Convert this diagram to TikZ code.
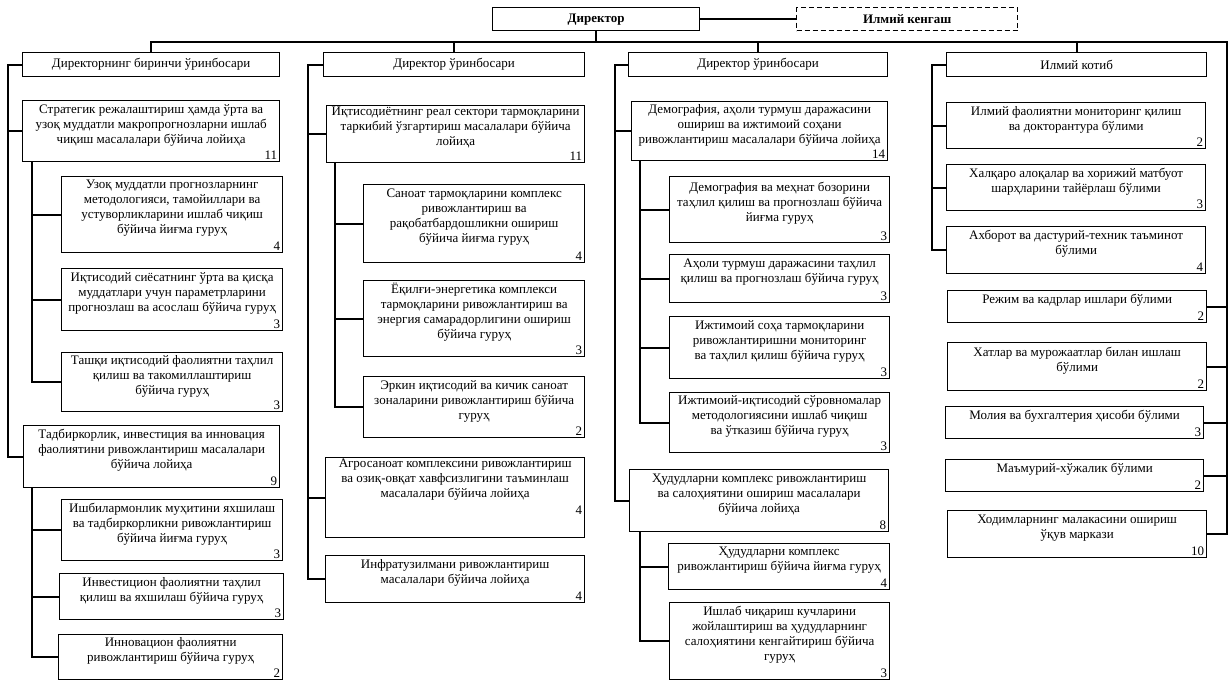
\documentclass[tikz,border=0pt]{standalone}
\usepackage{fontspec}
\setmainfont{Liberation Serif}
\tikzset{
  box/.style={draw, line width=1.3pt, align=center, inner xsep=3pt, inner ysep=1pt, anchor=north west, font=\fontsize{13}{15}\selectfont},
  unit/.style={box, text depth=15pt},
  num/.style={anchor=south east, draw=none, inner sep=3pt, minimum width=0pt, minimum height=0pt, text depth=0pt, font=\fontsize{13}{15}\selectfont},
  wire/.style={line width=1.8pt},
}
\begin{document}
\begin{tikzpicture}[x=1pt, y=-1pt]
\useasboundingbox (0,0) rectangle (1232,685);
% top
\node[box, font=\bfseries\fontsize{13}{15}\selectfont, minimum width=207pt, minimum height=23pt] (dir) at (492,7) {Директор};
\node[box, dash pattern=on 5pt off 3pt, font=\bfseries\fontsize{13}{15}\selectfont, minimum width=221pt, minimum height=23pt] (kengash) at (796,7) {Илмий кенгаш};
\node[box, minimum width=257pt, minimum height=24pt] (zam1) at (22,52) {Директорнинг биринчи ўринбосари};
\node[box, minimum width=261pt, minimum height=24pt] (zam2) at (323,52) {Директор ўринбосари};
\node[box, minimum width=259pt, minimum height=24pt] (zam3) at (628,52) {Директор ўринбосари};
\node[box, minimum width=260pt, minimum height=24pt] (kotib) at (946,52) {Илмий котиб};
% first column
\node[unit, minimum width=257pt, minimum height=61pt, label={[num]south east:11}] (loy1) at (22,100) {Стратегик режалаштириш ҳамда ўрта ва\\узоқ муддатли макропрогнозларни ишлаб\\чиқиш масалалари бўйича лойиҳа};
\node[unit, minimum width=221pt, minimum height=76pt, label={[num]south east:4}] (gur1) at (61,176) {Узоқ муддатли прогнозларнинг\\методологияси, тамойиллари ва\\устуворликларини ишлаб чиқиш\\бўйича йиғма гуруҳ};
\node[unit, minimum width=221pt, minimum height=62pt, label={[num]south east:3}] (gur2) at (61,268) {Иқтисодий сиёсатнинг ўрта ва қисқа\\муддатлари учун параметрларини\\прогнозлаш ва асослаш бўйича гуруҳ};
\node[unit, minimum width=221pt, minimum height=59pt, label={[num]south east:3}] (gur3) at (61,352) {Ташқи иқтисодий фаолиятни таҳлил\\қилиш ва такомиллаштириш\\бўйича гуруҳ};
\node[unit, minimum width=256pt, minimum height=62pt, label={[num]south east:9}] (loy2) at (23,425) {Тадбиркорлик, инвестиция ва инновация\\фаолиятини ривожлантириш масалалари\\бўйича лойиҳа};
\node[unit, minimum width=221pt, minimum height=61pt, label={[num]south east:3}] (gur4) at (61,499) {Ишбилармонлик муҳитини яхшилаш\\ва тадбиркорликни ривожлантириш\\бўйича йиғма гуруҳ};
\node[unit, minimum width=224pt, minimum height=46pt, label={[num]south east:3}] (gur5) at (59,573) {Инвестицион фаолиятни таҳлил\\қилиш ва яхшилаш бўйича гуруҳ};
\node[unit, minimum width=224pt, minimum height=45pt, label={[num]south east:2}] (gur6) at (58,634) {Инновацион фаолиятни\\ривожлантириш бўйича гуруҳ};
% second column
\node[unit, minimum width=258pt, minimum height=57pt, label={[num]south east:11}] (loy3) at (326,105) {Иқтисодиётнинг реал сектори тармоқларини\\таркибий ўзгартириш масалалари бўйича\\лойиҳа};
\node[unit, minimum width=221pt, minimum height=78pt, label={[num]south east:4}] (gur7) at (363,184) {Саноат тармоқларини комплекс\\ривожлантириш ва\\рақобатбардошликни ошириш\\бўйича йиғма гуруҳ};
\node[unit, minimum width=221pt, minimum height=76pt, label={[num]south east:3}] (gur8) at (363,280) {Ёқилғи-энергетика комплекси\\тармоқларини ривожлантириш ва\\энергия самарадорлигини ошириш\\бўйича гуруҳ};
\node[unit, minimum width=221pt, minimum height=61pt, label={[num]south east:2}] (gur9) at (363,376) {Эркин иқтисодий ва кичик саноат\\зоналарини ривожлантириш бўйича\\гуруҳ};
\node[unit, text depth=38pt, minimum width=259pt, minimum height=80pt, label={[num, yshift=21pt]south east:4}] (loy4) at (325,457) {Агросаноат комплексини ривожлантириш\\ва озиқ-овқат хавфсизлигини таъминлаш\\масалалари бўйича лойиҳа};
\node[unit, minimum width=259pt, minimum height=47pt, label={[num]south east:4}] (loy5) at (325,555) {Инфратузилмани ривожлантириш\\масалалари бўйича лойиҳа};
% third column
\node[unit, minimum width=256pt, minimum height=59pt, label={[num]south east:14}] (loy6) at (631,101) {Демография, аҳоли турмуш даражасини\\ошириш ва ижтимоий соҳани\\ривожлантириш масалалари бўйича лойиҳа};
\node[unit, minimum width=220pt, minimum height=66pt, label={[num]south east:3}] (gur10) at (669,176) {Демография ва меҳнат бозорини\\таҳлил қилиш ва прогнозлаш бўйича\\йиғма гуруҳ};
\node[unit, minimum width=220pt, minimum height=48pt, label={[num]south east:3}] (gur11) at (669,254) {Аҳоли турмуш даражасини таҳлил\\қилиш ва прогнозлаш бўйича гуруҳ};
\node[unit, minimum width=220pt, minimum height=62pt, label={[num]south east:3}] (gur12) at (669,316) {Ижтимоий соҳа тармоқларини\\ривожлантиришни мониторинг\\ва таҳлил қилиш бўйича гуруҳ};
\node[unit, minimum width=220pt, minimum height=60pt, label={[num]south east:3}] (gur13) at (669,392) {Ижтимоий-иқтисодий сўровномалар\\методологиясини ишлаб чиқиш\\ва ўтказиш бўйича гуруҳ};
\node[unit, minimum width=259pt, minimum height=62pt, label={[num]south east:8}] (loy7) at (629,469) {Ҳудудларни комплекс ривожлантириш\\ва салоҳиятини ошириш масалалари\\бўйича лойиҳа};
\node[unit, minimum width=221pt, minimum height=46pt, label={[num]south east:4}] (gur14) at (668,543) {Ҳудудларни комплекс\\ривожлантириш бўйича йиғма гуруҳ};
\node[unit, minimum width=220pt, minimum height=77pt, label={[num]south east:3}] (gur15) at (669,602) {Ишлаб чиқариш кучларини\\жойлаштириш ва ҳудудларнинг\\салоҳиятини кенгайтириш бўйича\\гуруҳ};
% fourth column
\node[unit, minimum width=259pt, minimum height=46pt, label={[num]south east:2}] (bul1) at (946,102) {Илмий фаолиятни мониторинг қилиш\\ва докторантура бўлими};
\node[unit, minimum width=259pt, minimum height=46pt, label={[num]south east:3}] (bul2) at (946,164) {Халқаро алоқалар ва хорижий матбуот\\шарҳларини тайёрлаш бўлими};
\node[unit, minimum width=259pt, minimum height=47pt, label={[num]south east:4}] (bul3) at (946,226) {Ахборот ва дастурий-техник таъминот\\бўлими};
\node[unit, minimum width=259pt, minimum height=32pt, label={[num]south east:2}] (bul4) at (947,290) {Режим ва кадрлар ишлари бўлими};
\node[unit, minimum width=259pt, minimum height=48pt, label={[num]south east:2}] (bul5) at (947,342) {Хатлар ва мурожаатлар билан ишлаш\\бўлими};
\node[unit, minimum width=258pt, minimum height=32pt, label={[num]south east:3}] (bul6) at (945,406) {Молия ва бухгалтерия ҳисоби бўлими};
\node[unit, minimum width=258pt, minimum height=32pt, label={[num]south east:2}] (bul7) at (945,459) {Маъмурий-хўжалик бўлими};
\node[unit, minimum width=259pt, minimum height=47pt, label={[num]south east:10}] (bul8) at (947,510) {Ходимларнинг малакасини ошириш\\ўқув маркази};
% lines
\coordinate (bus) at (0,42);
\coordinate (s1) at (8,0);
\coordinate (t1) at (32,0);
\coordinate (s2) at (308,0);
\coordinate (t2) at (335,0);
\coordinate (s3) at (615,0);
\coordinate (t3) at (640,0);
\coordinate (s4) at (932,0);
\coordinate (s5) at (1227,0);
\draw[wire] (dir.east) -- (kengash.west);
\draw[wire] (dir.south) -- (dir.south |- bus);
\draw[wire] (zam1.north) |- (s5 |- bus) -- (s5 |- bul8.east) -- (bul8.east);
\foreach \n in {zam2,zam3,kotib} \draw[wire] (\n.north) -- (\n.north |- bus);
\draw[wire] (zam1.west) -| (s1 |- loy2.west) -- (loy2.west);
\draw[wire] (loy1.west) -- (loy1.west -| s1);
\draw[wire] (loy1.south -| t1) |- (gur3.west);
\draw[wire] (loy2.south -| t1) |- (gur6.west);
\foreach \n in {gur1,gur2,gur4,gur5} \draw[wire] (\n.west) -- (\n.west -| t1);
\draw[wire] (zam2.west) -| (s2 |- loy5.west) -- (loy5.west);
\foreach \n in {loy3,loy4} \draw[wire] (\n.west) -- (\n.west -| s2);
\draw[wire] (loy3.south -| t2) |- (gur9.west);
\foreach \n in {gur7,gur8} \draw[wire] (\n.west) -- (\n.west -| t2);
\draw[wire] (zam3.west) -| (s3 |- loy7.west) -- (loy7.west);
\draw[wire] (loy6.west) -- (loy6.west -| s3);
\draw[wire] (loy6.south -| t3) |- (gur13.west);
\draw[wire] (loy7.south -| t3) |- (gur15.west);
\foreach \n in {gur10,gur11,gur12,gur14} \draw[wire] (\n.west) -- (\n.west -| t3);
\draw[wire] (kotib.west) -| (s4 |- bul3.west) -- (bul3.west);
\foreach \n in {bul1,bul2} \draw[wire] (\n.west) -- (\n.west -| s4);
\foreach \n in {bul4,bul5,bul6,bul7} \draw[wire] (\n.east) -- (\n.east -| s5);
\end{tikzpicture}
\end{document}
